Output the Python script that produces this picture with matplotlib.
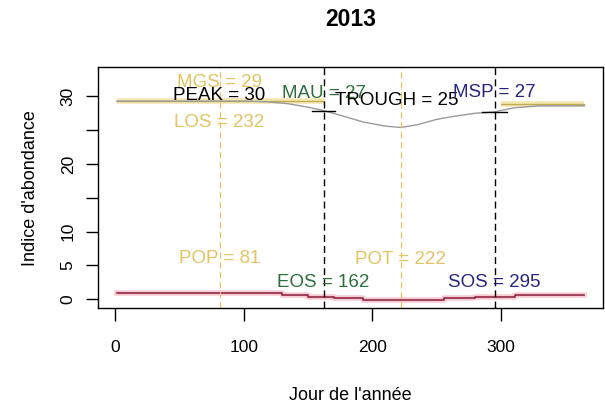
import numpy as np
import matplotlib
matplotlib.use("Agg")
import matplotlib.pyplot as plt
from matplotlib import font_manager

# day of year / index values
curve_days = [1, 100, 118, 135, 150, 162, 175, 193, 210, 222, 235, 250, 265, 280, 295, 310, 330, 365]
curve_vals = [29.3, 29.3, 29.2, 28.9, 28.4, 27.9, 27.2, 26.2, 25.6, 25.4, 25.8, 26.6, 27.1, 27.5, 27.7, 28.3, 28.6, 28.6]

# flat season segments (start, end, level)
season_segs = [(1, 162, 29.3), (300, 365, 28.8)]

# bottom step series
step_days = [1, 130, 150, 170, 193, 256, 280, 311, 365]
step_vals = [0.9, 0.6, 0.35, 0.15, -0.1, 0.15, 0.35, 0.6, 0.6]

# phenology metrics
sos, eos, los = 295, 162, 232
pop, pot = 81, 222
mgs, peak, trough = 29.3, 30.2, 25.4
mau, msp = 27.9, 27.7

gold = "#E2C463"
green = "#2E6E3E"
navy = "#26267F"

avail = {f.name for f in font_manager.fontManager.ttflist}
fam = ["Liberation Sans Narrow"] if "Liberation Sans Narrow" in avail else ["Liberation Sans"]
plt.rcParams["font.family"] = fam + ["DejaVu Sans"]

fig = plt.figure(figsize=(6.05, 4.07), dpi=100)
ax = fig.add_axes([0.162, 0.243, 0.835, 0.592])

# curves
for a, b, lev in season_segs:
    ax.plot([a, b], [lev, lev], color="#F3E6AE", lw=4, solid_capstyle="butt")
    ax.plot([a, b], [lev, lev], color="#BFAA55", lw=0.9)
ax.plot(curve_days, curve_vals, color="#9A9A9A", lw=1)
ax.plot(step_days, step_vals, color="#F6CBD4", lw=4, drawstyle="steps-post")
ax.plot(step_days, step_vals, color="#8B1A3A", lw=1.1, drawstyle="steps-post")

# mean spring / autumn markers
ax.plot([eos - 9, eos + 9], [mau, mau], color="black", lw=1)
ax.plot([sos - 10, sos + 10], [msp, msp], color="black", lw=1)

# vertical markers
for d in (pop, pot):
    ax.axvline(d, color=gold, lw=0.9, dashes=(5, 3))
for d in (eos, sos):
    ax.axvline(d, color="black", lw=1, dashes=(5, 3))

fs = 13.5
ax.text(pop, 32.0, f"MGS = {int(mgs)}", color=gold, fontsize=fs, ha="center", va="center")
ax.text(pop, peak, f"PEAK = {int(peak)}", color="black", fontsize=fs, ha="center", va="center")
ax.text(pop, 26.2, f"LOS = {los}", color=gold, fontsize=fs, ha="center", va="center")
ax.text(eos, 30.4, f"MAU = {int(mau)}", color=green, fontsize=fs, ha="center", va="center")
ax.text(pot - 3, 29.4, f"TROUGH = {int(trough)}", color="black", fontsize=fs, ha="center", va="center")
ax.text(sos, 30.6, f"MSP = {int(msp)}", color=navy, fontsize=fs, ha="center", va="center")
ax.text(pop, 6.0, f"POP = {pop}", color=gold, fontsize=fs, ha="center", va="center")
ax.text(eos, 2.5, f"EOS = {eos}", color=green, fontsize=fs, ha="center", va="center")
ax.text(pot, 5.9, f"POT = {pot}", color=gold, fontsize=fs, ha="center", va="center")
ax.text(sos, 2.5, f"SOS = {sos}", color=navy, fontsize=fs, ha="center", va="center")

ax.set_xlim(1 - 14.56, 365 + 14.56)
ax.set_ylim(-1.32, 34.32)
ax.set_xticks([0, 100, 200, 300])
ax.set_yticks([0, 5, 10, 15, 20, 25, 30])
ax.set_yticklabels(["0", "5", "10", "", "20", "", "30"])
ax.tick_params(axis="both", length=9, width=1, labelsize=12.5, color="black")
ax.tick_params(axis="x", pad=14)
ax.tick_params(axis="y", pad=7, labelrotation=90)
for lab in ax.get_yticklabels():
    lab.set_va("center")
for s in ax.spines.values():
    s.set_linewidth(1)

fig.text(351 / 605, 1 - 19 / 407, "2013", fontsize=16.5, fontweight="bold",
         ha="center", va="center")
ax.set_xlabel("Jour de l'année", fontsize=13, va="center")
ax.set_ylabel("Indice d'abondance", fontsize=13, va="center")
ax.xaxis.set_label_coords(0.5, -0.361)
ax.yaxis.set_label_coords(-0.133, 0.5)

fig.savefig("out.png", dpi=100)
